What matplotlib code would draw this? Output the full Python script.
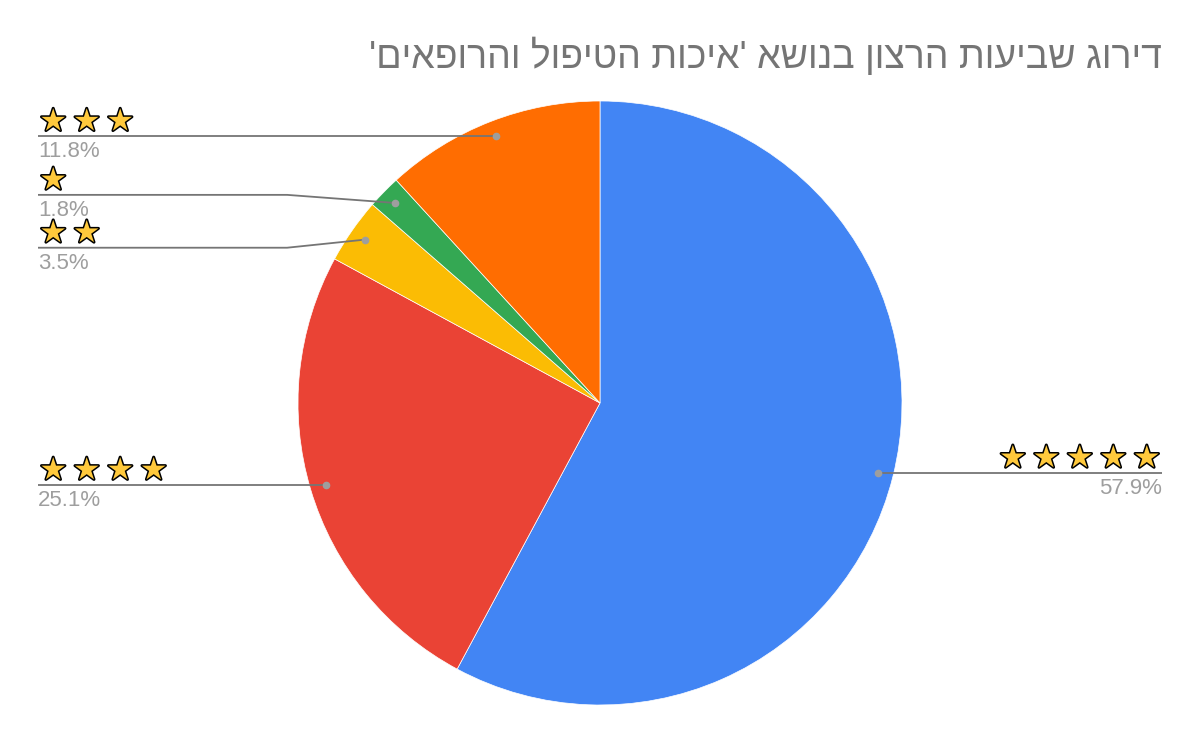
import numpy as np
import matplotlib.pyplot as plt
import matplotlib.patheffects as pe

# data (clockwise from 12 o'clock)
stars = [5, 4, 2, 1, 3]
shares = [57.9, 25.1, 3.5, 1.8, 11.8]
colors = ['#4285F4', '#EA4335', '#FBBC04', '#34A853', '#FF6D01']
title = "דירוג שביעות הרצון בנושא 'איכות הטיפול והרופאים'"

W, H = 1200, 742
fig = plt.figure(figsize=(W / 100, H / 100), dpi=100)
cx, cy, r = 600, 403, 302
ax = fig.add_axes([(cx - r) / W, (H - cy - r) / H, 2 * r / W, 2 * r / H])

wedges, _ = ax.pie(shares, colors=colors, startangle=90, counterclock=False,
                   radius=1, wedgeprops=dict(linewidth=0.5, edgecolor='white'))
ax.set_xlim(-1, 1)
ax.set_ylim(-1, 1)
ax.axis('off')

# anchor points on each slice
mids = [np.deg2rad((w.theta1 + w.theta2) / 2) for w in wedges]
dots = [(0.948 * np.cos(a), 0.948 * np.sin(a)) for a in mids]

# spread label heights on each side so they don't overlap
gap = 0.175
label_y = [d[1] for d in dots]
for side in (1, -1):
    idx = [i for i, d in enumerate(dots) if np.sign(d[0]) == side]
    idx.sort(key=lambda i: -label_y[i])
    for _ in range(50):
        for a, b in zip(idx[:-1], idx[1:]):
            diff = label_y[a] - label_y[b]
            if diff < gap:
                push = (gap - diff) / 2
                label_y[a] += push
                label_y[b] -= push

x_end = (1162 - cx) / r
x_elbow = 1.036
line_c = '#757575'
star_fx = [pe.withStroke(linewidth=2.2, foreground='black')]

for i, (dx, dy) in enumerate(dots):
    side = 1 if dx > 0 else -1
    ly = label_y[i]
    if abs(ly - dy) > 1e-3:
        xs = [dx, side * x_elbow, side * x_end]
        ys = [dy, ly, ly]
    else:
        xs = [dx, side * x_end]
        ys = [dy, ly]
    ax.plot(xs, ys, color=line_c, lw=1.3, clip_on=False, solid_capstyle='butt')
    ax.plot(dx, dy, 'o', ms=4.5, color='#9E9E9E', clip_on=False)
    ha = 'right' if side > 0 else 'left'
    ax.text(side * (x_end - 0.005), ly - 0.001, '\u2009'.join(['★'] * stars[i]), ha=ha,
            va='bottom', fontsize=22, color='#FFC93C', family='DejaVu Sans',
            path_effects=star_fx)
    ax.text(side * x_end, ly - 0.017, '{:.1f}%'.format(shares[i]), ha=ha, va='top',
            fontsize=16, color='#9E9E9E', family='Liberation Sans')

# matplotlib has no bidi, so reverse the Hebrew for display
fig.text(1162 / W, 1 - 57 / H, title[::-1], ha='right', va='center', fontsize=27,
         color='#757575', family='Liberation Sans')

fig.savefig('out.png', dpi=100, facecolor='white')
